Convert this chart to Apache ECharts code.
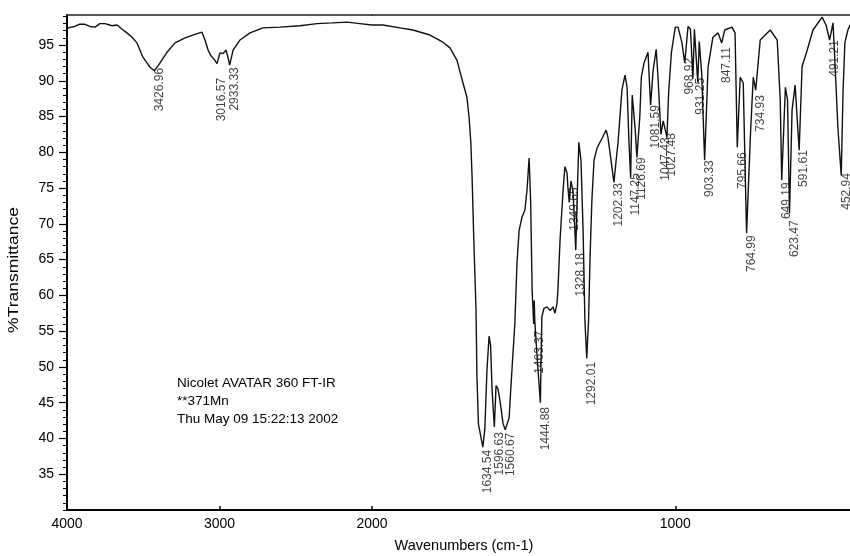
<!DOCTYPE html>
<html><head><meta charset="utf-8">
<script src="https://cdn.jsdelivr.net/npm/echarts@6/dist/echarts.min.js"></script>
<style>html,body{margin:0;padding:0;background:#fff}#c{width:850px;height:556px}</style>
</head><body><div id="c"></div>
<script>
// Spectrum, 4000-2000 cm-1 (compressed scale)
const wnHigh = [4000, 3975, 3948, 3920, 3882, 3850, 3816, 3785, 3751, 3720, 3705, 3672, 3639, 3607, 3574, 3541, 3502, 3456, 3426.96, 3390, 3344, 3292, 3226, 3161, 3115, 3095, 3075, 3056, 3035, 3016.57, 2997, 2977, 2957, 2944, 2933.33, 2911, 2866, 2800, 2715, 2603, 2472, 2361, 2260, 2164, 2080, 2000];
const trHigh = [97.3, 97.5, 97.6, 97.9, 97.9, 97.6, 97.5, 98.0, 98.0, 97.8, 97.7, 97.8, 97.2, 96.7, 96.1, 95.3, 93.3, 91.9, 91.4, 92.5, 94.0, 95.3, 96.0, 96.5, 96.8, 95.7, 94.3, 93.5, 93.0, 92.4, 93.9, 93.8, 94.3, 93.2, 92.2, 94.3, 95.7, 96.7, 97.4, 97.5, 97.7, 98.0, 98.1, 98.2, 98.0, 97.8];
// Spectrum, 2000-424 cm-1 (expanded scale)
const wnLow = [2000, 1964, 1908, 1865, 1809, 1766, 1743, 1720, 1700, 1687, 1680, 1674, 1670, 1664, 1657, 1654, 1649, 1634.54, 1628, 1621, 1614, 1609, 1604, 1596.63, 1591, 1585, 1578, 1568, 1560.67, 1548, 1538, 1529, 1522, 1515, 1505, 1496, 1489, 1482, 1477, 1472, 1467, 1465, 1463.37, 1455, 1444.88, 1440, 1433, 1423, 1413, 1403, 1397, 1390, 1387, 1380, 1370, 1364, 1357, 1354, 1349.65, 1344, 1337, 1328.18, 1322, 1318, 1311, 1304, 1298, 1292.01, 1286, 1281, 1275, 1268, 1258, 1241, 1228, 1222, 1212, 1202.33, 1195, 1189, 1182, 1176, 1166, 1159, 1153, 1147.25, 1142, 1137, 1132, 1126.69, 1117, 1112, 1103, 1090, 1086, 1081.59, 1073, 1063, 1057, 1047.43, 1040, 1027.48, 1022, 1013, 1000, 991, 978, 968.92, 958, 950, 942, 937, 933, 926, 921, 913, 903.33, 892, 876, 859, 847.11, 837, 813, 803, 795.66, 786, 776, 764.99, 752, 743, 734.93, 720, 687, 664, 654, 649.19, 637, 630, 623.47, 615, 605, 591.61, 582, 565, 546, 516, 503, 491.21, 480, 474, 464, 452.94, 447, 441, 431, 424];
const trLow = [97.8, 97.8, 97.4, 97.1, 96.4, 95.4, 94.6, 92.9, 89.7, 87.7, 84.9, 81.3, 76.5, 67.3, 57.9, 48.6, 42.0, 38.8, 41.3, 49.5, 54.3, 53.0, 46.7, 41.6, 47.4, 47.0, 45.3, 42.1, 41.2, 42.9, 50.0, 56.1, 64.5, 69.1, 71.0, 71.9, 74.7, 79.2, 73.3, 60.7, 56.0, 59.3, 56.5, 51.0, 45.0, 57.0, 58.2, 58.4, 57.9, 58.4, 57.5, 58.9, 60.7, 67.7, 74.7, 78.0, 77.1, 75.1, 73.0, 76.0, 74.5, 66.3, 76.0, 81.4, 78.9, 69.1, 56.5, 51.2, 56.5, 65.4, 73.3, 78.9, 80.6, 82.0, 83.1, 82.1, 78.9, 75.8, 78.9, 81.3, 85.2, 88.7, 90.8, 89.1, 81.7, 76.5, 88.0, 88.0, 83.1, 79.3, 85.0, 90.5, 92.5, 94.0, 90.5, 86.6, 91.5, 94.4, 90.5, 82.5, 84.4, 82.1, 88.3, 93.9, 97.5, 97.5, 95.3, 92.5, 97.6, 97.2, 90.3, 97.2, 97.4, 89.8, 95.5, 91.0, 78.9, 91.9, 96.1, 96.7, 95.3, 97.1, 97.5, 96.7, 80.7, 90.5, 89.7, 68.7, 82.7, 90.5, 88.7, 95.7, 97.1, 95.7, 87.3, 76.1, 89.1, 87.3, 71.5, 85.9, 89.4, 80.3, 92.0, 94.3, 97.1, 98.9, 97.8, 95.7, 98.1, 92.9, 83.5, 76.8, 88.3, 95.3, 97.1, 97.8];
// Peak labels: wavenumber and the transmittance where the label text starts
const peakWn = [3426.96, 3016.57, 2933.33, 1634.54, 1596.63, 1560.67, 1463.37, 1444.88, 1349.65, 1328.18, 1292.01, 1202.33, 1147.25, 1126.69, 1081.59, 1047.43, 1027.48, 968.92, 931.25, 903.33, 847.11, 795.66, 764.99, 734.93, 649.19, 623.47, 591.61, 491.21, 452.94];
const peakLabelT = [91.8, 90.4, 91.9, 38.4, 40.9, 40.8, 55.1, 44.4, 75.1, 65.9, 50.7, 75.7, 77.1, 79.3, 86.6, 82.1, 82.7, 93.2, 90.4, 78.9, 94.7, 80.0, 68.4, 88.0, 75.8, 70.5, 80.3, 95.7, 77.1];
// Axis ticks
const xTicksHigh = [4000, 3000];
const xTicksLow = [2000, 1000];
const yMajorTicks = [35, 40, 45, 50, 55, 60, 65, 70, 75, 80, 85, 90, 95];
const yMinorTicks = [30, 31, 32, 33, 34, 35, 36, 37, 38, 39, 40, 41, 42, 43, 44, 45, 46, 47, 48, 49, 50, 51, 52, 53, 54, 55, 56, 57, 58, 59, 60, 61, 62, 63, 64, 65, 66, 67, 68, 69, 70, 71, 72, 73, 74, 75, 76, 77, 78, 79, 80, 81, 82, 83, 84, 85, 86, 87, 88, 89, 90, 91, 92, 93, 94, 95, 96, 97, 98, 99];

const FONT = 'Liberation Sans, Arial, sans-serif';
const INK = '#000';
const Y_MIN = 30, Y_MAX = 99.2;

const zip = (a, b) => a.map((v, i) => [v, b[i]]);
const peaksHigh = [], peaksLow = [];
peakWn.forEach((w, i) => (w > 2000 ? peaksHigh : peaksLow).push([w, peakLabelT[i]]));

const chart = echarts.init(document.getElementById('c'), null, {renderer: 'canvas'});
const axisLineStyle = {color: INK, width: 2};
const plain = v => String(v);
const tickLabel = {margin: 7, color: INK, fontFamily: FONT, fontSize: 14, formatter: plain};
const peakLabel = {
  show: true, position: 'inside', rotate: 90, align: 'right', verticalAlign: 'middle',
  offset: [0, 5], color: '#111', fontFamily: FONT, fontSize: 12,
  formatter: p => p.value[0].toFixed(2)
};
const option = {
  animation: false,
  backgroundColor: '#fff',
  grid: [
    {left: 67, width: 305, top: 15, bottom: 46},
    {left: 372, right: 0, top: 15, bottom: 46}
  ],
  xAxis: [
    {gridIndex: 0, type: 'value', min: 2000, max: 4000, inverse: true, position: 'bottom',
     axisLine: {lineStyle: axisLineStyle}, splitLine: {show: false},
     axisTick: {inside: true, length: 4, lineStyle: {color: INK, width: 1.5}, customValues: [3000]},
     axisLabel: Object.assign({customValues: xTicksHigh}, tickLabel)},
    {gridIndex: 1, type: 'value', min: 424, max: 2000, inverse: true, position: 'bottom',
     axisLine: {lineStyle: axisLineStyle}, splitLine: {show: false},
     axisTick: {inside: true, length: 4, lineStyle: {color: INK, width: 1.5}, customValues: xTicksLow},
     axisLabel: Object.assign({customValues: xTicksLow}, tickLabel)},
    {gridIndex: 0, type: 'value', min: 2000, max: 4000, inverse: true, position: 'top',
     axisLine: {lineStyle: {color: '#222', width: 1.5}}, axisTick: {show: false}, axisLabel: {show: false}, splitLine: {show: false}},
    {gridIndex: 1, type: 'value', min: 424, max: 2000, inverse: true, position: 'top',
     axisLine: {lineStyle: {color: '#222', width: 1.5}}, axisTick: {show: false}, axisLabel: {show: false}, splitLine: {show: false}}
  ],
  yAxis: [
    {gridIndex: 0, type: 'value', min: Y_MIN, max: Y_MAX, position: 'left',
     axisLine: {show: true, lineStyle: axisLineStyle}, splitLine: {show: false},
     axisTick: {show: true, length: 8, lineStyle: {color: INK, width: 1.2}, customValues: yMajorTicks},
     axisLabel: Object.assign({customValues: yMajorTicks}, tickLabel, {margin: 13})},
    {gridIndex: 0, type: 'value', min: Y_MIN, max: Y_MAX, position: 'left',
     axisLine: {show: false}, splitLine: {show: false},
     axisTick: {show: true, length: 4, lineStyle: {color: INK, width: 1}, customValues: yMinorTicks},
     axisLabel: {show: false}},
    {gridIndex: 1, type: 'value', min: Y_MIN, max: Y_MAX, show: false}
  ],
  series: [
    {type: 'line', xAxisIndex: 0, yAxisIndex: 0, data: zip(wnHigh, trHigh), showSymbol: false,
     lineStyle: {color: '#111', width: 1.4}, clip: false},
    {type: 'line', xAxisIndex: 1, yAxisIndex: 2, data: zip(wnLow, trLow), showSymbol: false,
     lineStyle: {color: '#111', width: 1.4}, clip: false},
    {type: 'scatter', xAxisIndex: 0, yAxisIndex: 0, data: peaksHigh, symbolSize: 1,
     itemStyle: {color: 'rgba(0,0,0,0)'}, label: peakLabel, clip: false},
    {type: 'scatter', xAxisIndex: 1, yAxisIndex: 2, data: peaksLow, symbolSize: 1,
     itemStyle: {color: 'rgba(0,0,0,0)'}, label: peakLabel, clip: false}
  ],
  graphic: [
    {type: 'text', left: 177, top: 374, style: {
      text: 'Nicolet AVATAR 360 FT-IR\n**371Mn\nThu May 09 15:22:13 2002',
      font: '13.5px ' + FONT, fill: INK, lineHeight: 18}},
    {type: 'text', x: 464, y: 546, style: {
      text: 'Wavenumbers (cm-1)', font: '14.5px ' + FONT, fill: INK,
      textAlign: 'center', textVerticalAlign: 'middle'}},
    {type: 'text', x: 14, y: 270, rotation: Math.PI / 2, scaleX: 1.25, style: {
      text: '%Transmittance', font: '14px ' + FONT, fill: INK,
      textAlign: 'center', textVerticalAlign: 'middle'}}
  ]
};
chart.setOption(option);
</script>
</body></html>
